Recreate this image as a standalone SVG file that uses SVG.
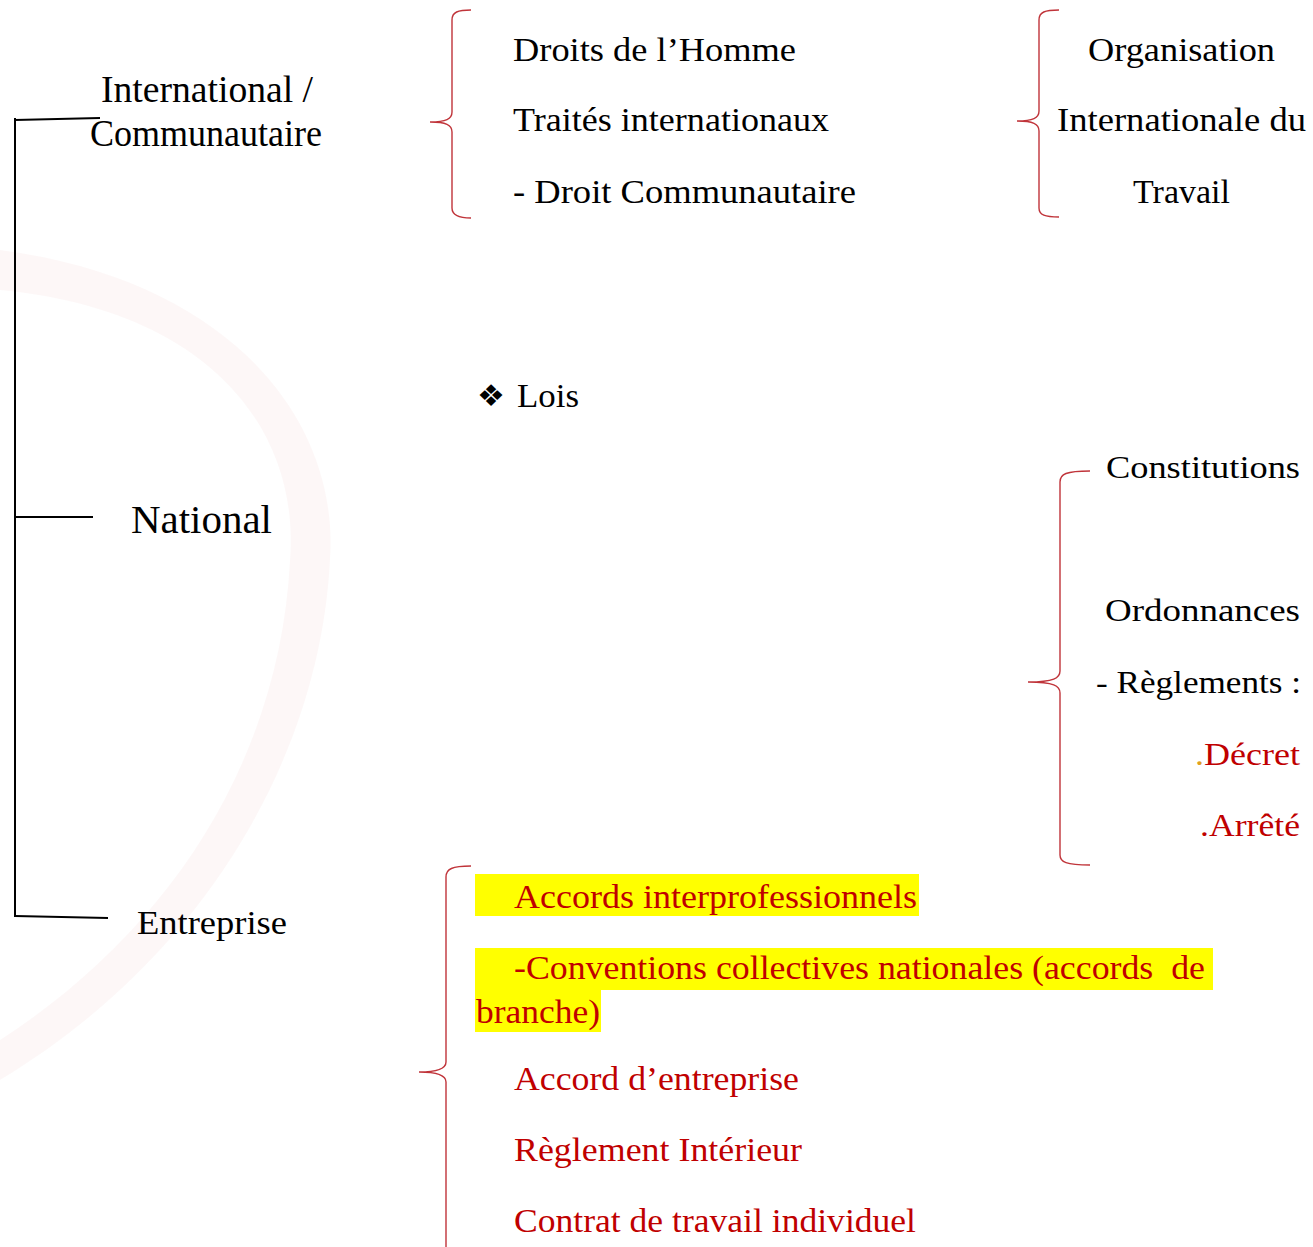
<svg xmlns="http://www.w3.org/2000/svg" width="1313" height="1247" viewBox="0 0 1313 1247">
<style>
.t{font-family:"Liberation Serif","Times New Roman",serif;font-size:34px;fill:#000}
.big{font-size:37px}
.nat{font-size:40px}
.rc{font-size:32px}
.red{fill:#c00000}
.br{fill:none;stroke:#c0343a;stroke-width:1.4}
.ln{fill:none;stroke:#000;stroke-width:2}
.hl{fill:#ffff00}
</style>
<rect width="1313" height="1247" fill="#fff"/>
<g id="watermark">
<path d="M0,250 C230,280 340,420 330,560 C320,760 200,960 0,1080 L0,1040 C170,930 280,760 290,560 C300,430 210,310 0,290 Z" fill="#c00000" opacity="0.03"/>
</g>
<g id="connectors">
<path class="ln" d="M15,118 L15,917"/>
<path class="ln" d="M15,120 L100,118"/>
<path class="ln" d="M15,517 L93,517"/>
<path class="ln" d="M15,916 L108,918"/>
<path class="br" d="M471,10 C458,10 452,12 452,20 L452,112 C452,119 446,122 430,122 C446,122 452,125 452,132 L452,208 C452,215 458,218 471,218"/>
<path class="br" d="M1059,10 C1045,10 1039,12 1039,20 L1039,111 C1039,118 1033,121 1017,121 C1033,121 1039,124 1039,131 L1039,208 C1039,215 1045,217 1059,217"/>
<path class="br" d="M1090,471 C1066,471 1060,474 1060,482 L1060,671 C1060,678 1054,682 1028,682 C1054,682 1060,686 1060,693 L1060,855 C1060,862 1066,865 1090,865"/>
<path class="br" d="M471,866 C452,866 446,869 446,877 L446,1062 C446,1068 440,1072 419,1072 C440,1072 446,1076 446,1082 L446,1247"/>
</g>
<g id="international">
<text class="t big" x="101" y="102" textLength="212" lengthAdjust="spacingAndGlyphs">International /</text>
<text class="t big" x="90" y="146" textLength="232" lengthAdjust="spacingAndGlyphs">Communautaire</text>
</g>
<g id="national">
<text class="t nat" x="131" y="533" textLength="141" lengthAdjust="spacingAndGlyphs">National</text>
</g>
<g id="entreprise">
<text class="t" font-size="36" x="137" y="934" textLength="150" lengthAdjust="spacingAndGlyphs">Entreprise</text>
</g>
<g id="intl-list">
<text class="t" x="513" y="61" textLength="283" lengthAdjust="spacingAndGlyphs">Droits de l’Homme</text>
<text class="t" x="513" y="131" textLength="316" lengthAdjust="spacingAndGlyphs">Traités internationaux</text>
<text class="t" x="513" y="203" textLength="343" lengthAdjust="spacingAndGlyphs">- Droit Communautaire</text>
</g>
<g id="oit">
<text class="t" x="1088" y="61" textLength="187" lengthAdjust="spacingAndGlyphs">Organisation</text>
<text class="t" x="1057" y="131" textLength="249" lengthAdjust="spacingAndGlyphs">Internationale du</text>
<text class="t" x="1133" y="203" textLength="97" lengthAdjust="spacingAndGlyphs">Travail</text>
</g>
<g id="lois">
<text x="477" y="406" style="font-family:'DejaVu Sans',sans-serif;font-size:30px" textLength="28" lengthAdjust="spacingAndGlyphs">❖</text>
<text class="t" x="517" y="407" textLength="62" lengthAdjust="spacingAndGlyphs">Lois</text>
</g>
<g id="national-list">
<text class="t rc" x="1300" y="478" text-anchor="end" textLength="194" lengthAdjust="spacingAndGlyphs">Constitutions</text>
<text class="t rc" x="1300" y="621" text-anchor="end" textLength="195" lengthAdjust="spacingAndGlyphs">Ordonnances</text>
<text class="t rc" x="1301" y="693" text-anchor="end" textLength="205" lengthAdjust="spacingAndGlyphs">- Règlements :</text>
<text class="t rc red" x="1300" y="765" text-anchor="end" textLength="105" lengthAdjust="spacingAndGlyphs"><tspan fill="#e0a020">.</tspan>Décret</text>
<text class="t rc red" x="1300" y="836" text-anchor="end" textLength="100" lengthAdjust="spacingAndGlyphs">.Arrêté</text>
</g>
<g id="entreprise-list">
<rect class="hl" x="475" y="874" width="444" height="42"/>
<rect class="hl" x="475" y="948" width="738" height="42"/>
<rect class="hl" x="475" y="990" width="126" height="42"/>
<text class="t red" x="514" y="908" textLength="403" lengthAdjust="spacingAndGlyphs">Accords interprofessionnels</text>
<text class="t red" x="514" y="979" xml:space="preserve" textLength="691" lengthAdjust="spacingAndGlyphs">-Conventions collectives nationales (accords  de</text>
<text class="t red" x="476" y="1023" textLength="124" lengthAdjust="spacingAndGlyphs">branche)</text>
<text class="t red" x="514" y="1090" textLength="285" lengthAdjust="spacingAndGlyphs">Accord d’entreprise</text>
<text class="t red" x="514" y="1161" textLength="288" lengthAdjust="spacingAndGlyphs">Règlement Intérieur</text>
<text class="t red" x="514" y="1232" textLength="402" lengthAdjust="spacingAndGlyphs">Contrat de travail individuel</text>
</g>
</svg>
